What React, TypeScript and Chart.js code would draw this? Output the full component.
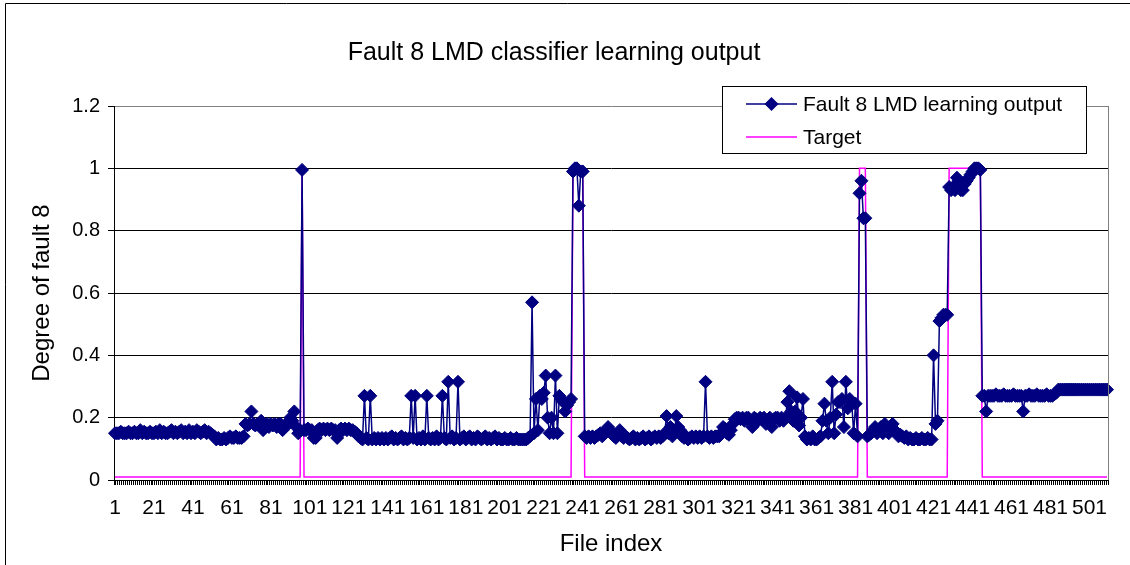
import React, { useEffect, useRef } from 'react';
import { Chart, registerables } from 'chart.js';

Chart.register(...registerables);

// Categories: file indices 1..510
const fileIndex: string[] = Array.from({ length: 510 }, (_, i) => String(i + 1));

// Series 1: Fault 8 LMD learning output
const learningOutput: number[] = [
  0.15, 0.15, 0.15, 0.155, 0.15, 0.15, 0.15, 0.155, 0.15, 0.15,
  0.155, 0.15, 0.15, 0.16, 0.15, 0.155, 0.15, 0.15, 0.155, 0.15,
  0.15, 0.155, 0.15, 0.16, 0.15, 0.155, 0.15, 0.15, 0.155, 0.16,
  0.15, 0.155, 0.15, 0.155, 0.16, 0.15, 0.155, 0.15, 0.16, 0.15,
  0.155, 0.15, 0.16, 0.155, 0.15, 0.155, 0.16, 0.15, 0.155, 0.15,
  0.145, 0.14, 0.13, 0.135, 0.13, 0.13, 0.135, 0.13, 0.135, 0.14,
  0.135, 0.135, 0.14, 0.135, 0.135, 0.135, 0.14, 0.18, 0.175, 0.18,
  0.22, 0.18, 0.175, 0.18, 0.18, 0.19, 0.16, 0.175, 0.18, 0.17,
  0.18, 0.175, 0.18, 0.17, 0.18, 0.18, 0.16, 0.175, 0.18, 0.18,
  0.2, 0.19, 0.22, 0.17, 0.15, 0.16, 0.995, 0.16, 0.16, 0.165,
  0.16, 0.16, 0.135, 0.135, 0.16, 0.165, 0.16, 0.165, 0.16, 0.165,
  0.16, 0.165, 0.16, 0.16, 0.135, 0.16, 0.165, 0.16, 0.165, 0.16,
  0.165, 0.16, 0.16, 0.155, 0.15, 0.14, 0.135, 0.13, 0.27, 0.135,
  0.13, 0.27, 0.13, 0.135, 0.13, 0.135, 0.13, 0.135, 0.13, 0.135,
  0.13, 0.135, 0.14, 0.13, 0.135, 0.13, 0.135, 0.14, 0.13, 0.135,
  0.13, 0.135, 0.27, 0.135, 0.27, 0.13, 0.135, 0.13, 0.14, 0.13,
  0.27, 0.135, 0.13, 0.135, 0.13, 0.14, 0.13, 0.135, 0.27, 0.135,
  0.13, 0.315, 0.135, 0.14, 0.13, 0.135, 0.315, 0.13, 0.135, 0.14,
  0.13, 0.135, 0.14, 0.13, 0.135, 0.13, 0.14, 0.135, 0.13, 0.135,
  0.14, 0.13, 0.135, 0.13, 0.135, 0.14, 0.13, 0.135, 0.13, 0.13,
  0.135, 0.13, 0.13, 0.135, 0.13, 0.13, 0.135, 0.13, 0.13, 0.13,
  0.13, 0.13, 0.135, 0.14, 0.57, 0.15, 0.26, 0.16, 0.27, 0.26,
  0.28, 0.335, 0.2, 0.15, 0.2, 0.15, 0.335, 0.15, 0.27, 0.26,
  0.25, 0.22, 0.24, 0.25, 0.26, 0.99, 1.0, 1.0, 0.88, 0.99,
  0.99, 0.14, 0.135, 0.14, 0.135, 0.14, 0.135, 0.14, 0.145, 0.15,
  0.14, 0.15, 0.16, 0.17, 0.16, 0.15, 0.14, 0.135, 0.15, 0.16,
  0.14, 0.135, 0.14, 0.135, 0.13, 0.135, 0.14, 0.13, 0.135, 0.13,
  0.135, 0.14, 0.13, 0.135, 0.14, 0.13, 0.135, 0.14, 0.135, 0.14,
  0.135, 0.14, 0.15, 0.205, 0.15, 0.17, 0.14, 0.15, 0.205, 0.17,
  0.16, 0.14, 0.135, 0.14, 0.13, 0.135, 0.14, 0.135, 0.14, 0.135,
  0.14, 0.135, 0.14, 0.315, 0.14, 0.135, 0.14, 0.135, 0.14, 0.14,
  0.14, 0.15, 0.17, 0.165, 0.15, 0.145, 0.16, 0.18, 0.195, 0.2,
  0.2, 0.195, 0.2, 0.19, 0.2, 0.2, 0.19, 0.17, 0.2, 0.195,
  0.19, 0.2, 0.195, 0.2, 0.18, 0.19, 0.2, 0.17, 0.195, 0.2,
  0.2, 0.19, 0.2, 0.19, 0.2, 0.25, 0.285, 0.22, 0.19, 0.22,
  0.265, 0.175, 0.2, 0.26, 0.14, 0.13, 0.135, 0.13, 0.14, 0.13,
  0.13, 0.135, 0.14, 0.19, 0.245, 0.19, 0.15, 0.2, 0.315, 0.15,
  0.21, 0.25, 0.25, 0.26, 0.17, 0.315, 0.23, 0.26, 0.25, 0.15,
  0.245, 0.14, 0.92, 0.96, 0.84, 0.84, 0.14, 0.145, 0.15, 0.16,
  0.17, 0.15, 0.16, 0.17, 0.15, 0.18, 0.16, 0.15, 0.17, 0.18,
  0.16, 0.15, 0.14, 0.145, 0.14, 0.135, 0.14, 0.13, 0.135, 0.13,
  0.13, 0.135, 0.13, 0.13, 0.135, 0.13, 0.13, 0.135, 0.13, 0.13,
  0.4, 0.18, 0.19, 0.51, 0.52, 0.53, 0.53, 0.53, 0.94, 0.93,
  0.94, 0.93, 0.97, 0.96, 0.93, 0.93, 0.95, 0.96, 0.97, 0.98,
  0.99, 1.0, 1.0, 1.0, 0.995, 0.27, 0.27, 0.22, 0.27, 0.27,
  0.27, 0.27, 0.275, 0.27, 0.27, 0.27, 0.275, 0.27, 0.27, 0.27,
  0.27, 0.275, 0.27, 0.27, 0.27, 0.27, 0.22, 0.27, 0.27, 0.275,
  0.27, 0.27, 0.27, 0.275, 0.27, 0.27, 0.27, 0.27, 0.275, 0.27,
  0.27, 0.27, 0.275, 0.28, 0.29, 0.29, 0.29, 0.29, 0.29, 0.29,
  0.29, 0.29, 0.29, 0.29, 0.29, 0.29, 0.29, 0.29, 0.29, 0.29,
  0.29, 0.29, 0.29, 0.29, 0.29, 0.29, 0.29, 0.29, 0.29, 0.29,
];

// Series 2: Target
const targetValues: number[] = [
  0.01, 0.01, 0.01, 0.01, 0.01, 0.01, 0.01, 0.01, 0.01, 0.01,
  0.01, 0.01, 0.01, 0.01, 0.01, 0.01, 0.01, 0.01, 0.01, 0.01,
  0.01, 0.01, 0.01, 0.01, 0.01, 0.01, 0.01, 0.01, 0.01, 0.01,
  0.01, 0.01, 0.01, 0.01, 0.01, 0.01, 0.01, 0.01, 0.01, 0.01,
  0.01, 0.01, 0.01, 0.01, 0.01, 0.01, 0.01, 0.01, 0.01, 0.01,
  0.01, 0.01, 0.01, 0.01, 0.01, 0.01, 0.01, 0.01, 0.01, 0.01,
  0.01, 0.01, 0.01, 0.01, 0.01, 0.01, 0.01, 0.01, 0.01, 0.01,
  0.01, 0.01, 0.01, 0.01, 0.01, 0.01, 0.01, 0.01, 0.01, 0.01,
  0.01, 0.01, 0.01, 0.01, 0.01, 0.01, 0.01, 0.01, 0.01, 0.01,
  0.01, 0.01, 0.01, 0.01, 0.01, 0.01, 1, 0.01, 0.01, 0.01,
  0.01, 0.01, 0.01, 0.01, 0.01, 0.01, 0.01, 0.01, 0.01, 0.01,
  0.01, 0.01, 0.01, 0.01, 0.01, 0.01, 0.01, 0.01, 0.01, 0.01,
  0.01, 0.01, 0.01, 0.01, 0.01, 0.01, 0.01, 0.01, 0.01, 0.01,
  0.01, 0.01, 0.01, 0.01, 0.01, 0.01, 0.01, 0.01, 0.01, 0.01,
  0.01, 0.01, 0.01, 0.01, 0.01, 0.01, 0.01, 0.01, 0.01, 0.01,
  0.01, 0.01, 0.01, 0.01, 0.01, 0.01, 0.01, 0.01, 0.01, 0.01,
  0.01, 0.01, 0.01, 0.01, 0.01, 0.01, 0.01, 0.01, 0.01, 0.01,
  0.01, 0.01, 0.01, 0.01, 0.01, 0.01, 0.01, 0.01, 0.01, 0.01,
  0.01, 0.01, 0.01, 0.01, 0.01, 0.01, 0.01, 0.01, 0.01, 0.01,
  0.01, 0.01, 0.01, 0.01, 0.01, 0.01, 0.01, 0.01, 0.01, 0.01,
  0.01, 0.01, 0.01, 0.01, 0.01, 0.01, 0.01, 0.01, 0.01, 0.01,
  0.01, 0.01, 0.01, 0.01, 0.01, 0.01, 0.01, 0.01, 0.01, 0.01,
  0.01, 0.01, 0.01, 0.01, 0.01, 0.01, 0.01, 0.01, 0.01, 0.01,
  0.01, 0.01, 0.01, 0.01, 0.01, 1, 1, 1, 1, 1,
  1, 0.01, 0.01, 0.01, 0.01, 0.01, 0.01, 0.01, 0.01, 0.01,
  0.01, 0.01, 0.01, 0.01, 0.01, 0.01, 0.01, 0.01, 0.01, 0.01,
  0.01, 0.01, 0.01, 0.01, 0.01, 0.01, 0.01, 0.01, 0.01, 0.01,
  0.01, 0.01, 0.01, 0.01, 0.01, 0.01, 0.01, 0.01, 0.01, 0.01,
  0.01, 0.01, 0.01, 0.01, 0.01, 0.01, 0.01, 0.01, 0.01, 0.01,
  0.01, 0.01, 0.01, 0.01, 0.01, 0.01, 0.01, 0.01, 0.01, 0.01,
  0.01, 0.01, 0.01, 0.01, 0.01, 0.01, 0.01, 0.01, 0.01, 0.01,
  0.01, 0.01, 0.01, 0.01, 0.01, 0.01, 0.01, 0.01, 0.01, 0.01,
  0.01, 0.01, 0.01, 0.01, 0.01, 0.01, 0.01, 0.01, 0.01, 0.01,
  0.01, 0.01, 0.01, 0.01, 0.01, 0.01, 0.01, 0.01, 0.01, 0.01,
  0.01, 0.01, 0.01, 0.01, 0.01, 0.01, 0.01, 0.01, 0.01, 0.01,
  0.01, 0.01, 0.01, 0.01, 0.01, 0.01, 0.01, 0.01, 0.01, 0.01,
  0.01, 0.01, 0.01, 0.01, 0.01, 0.01, 0.01, 0.01, 0.01, 0.01,
  0.01, 0.01, 0.01, 0.01, 0.01, 0.01, 0.01, 0.01, 0.01, 0.01,
  0.01, 0.01, 1, 1, 1, 1, 0.01, 0.01, 0.01, 0.01,
  0.01, 0.01, 0.01, 0.01, 0.01, 0.01, 0.01, 0.01, 0.01, 0.01,
  0.01, 0.01, 0.01, 0.01, 0.01, 0.01, 0.01, 0.01, 0.01, 0.01,
  0.01, 0.01, 0.01, 0.01, 0.01, 0.01, 0.01, 0.01, 0.01, 0.01,
  0.01, 0.01, 0.01, 0.01, 0.01, 0.01, 0.01, 0.01, 1, 1,
  1, 1, 1, 1, 1, 1, 1, 1, 1, 1,
  1, 1, 1, 1, 1, 0.01, 0.01, 0.01, 0.01, 0.01,
  0.01, 0.01, 0.01, 0.01, 0.01, 0.01, 0.01, 0.01, 0.01, 0.01,
  0.01, 0.01, 0.01, 0.01, 0.01, 0.01, 0.01, 0.01, 0.01, 0.01,
  0.01, 0.01, 0.01, 0.01, 0.01, 0.01, 0.01, 0.01, 0.01, 0.01,
  0.01, 0.01, 0.01, 0.01, 0.01, 0.01, 0.01, 0.01, 0.01, 0.01,
  0.01, 0.01, 0.01, 0.01, 0.01, 0.01, 0.01, 0.01, 0.01, 0.01,
  0.01, 0.01, 0.01, 0.01, 0.01, 0.01, 0.01, 0.01, 0.01, 0.01,
];

const seriesNames = ['Fault 8 LMD learning output', 'Target'];
const chartTitle = 'Fault 8 LMD classifier learning output';
const xTitle = 'File index';
const yTitle = 'Degree of fault 8';
const labelEvery = 20;

const FONT = '"Liberation Sans", Arial, sans-serif';
const NAVY = '#000080';
const MAGENTA = '#FF00FF';

const overlayPlugin = {
  id: 'overlay',
  beforeDraw(chart: any) {
    const { ctx, width, height } = chart;
    ctx.save();
    ctx.fillStyle = '#ffffff';
    ctx.fillRect(0, 0, width, height);
    ctx.restore();
  },
  afterDraw(chart: any) {
    const { ctx, chartArea } = chart;
    ctx.save();
    // plot area right border
    ctx.strokeStyle = '#808080';
    ctx.lineWidth = 1;
    const rx = Math.round(chartArea.right) + 0.5;
    ctx.beginPath();
    ctx.moveTo(rx, Math.round(chartArea.top));
    ctx.lineTo(rx, Math.round(chartArea.bottom));
    ctx.stroke();

    // outer chart border
    ctx.strokeStyle = '#000000';
    ctx.beginPath();
    ctx.moveTo(5.5, 565);
    ctx.lineTo(5.5, 3.5);
    ctx.lineTo(1130, 3.5);
    ctx.stroke();

    // legend box
    const bx = 722.5, by = 86.5, bw = 364, bh = 67;
    ctx.fillStyle = '#ffffff';
    ctx.fillRect(bx, by, bw, bh);
    ctx.strokeStyle = '#000000';
    ctx.lineWidth = 1;
    ctx.strokeRect(bx, by, bw, bh);

    const rows = [
      { y: 104, color: NAVY, marker: true, text: seriesNames[0] },
      { y: 137, color: MAGENTA, marker: false, text: seriesNames[1] },
    ];
    ctx.font = `21px ${FONT}`;
    ctx.textBaseline = 'middle';
    ctx.textAlign = 'left';
    rows.forEach((r) => {
      ctx.strokeStyle = r.color;
      ctx.lineWidth = 1.5;
      ctx.beginPath();
      ctx.moveTo(746, r.y);
      ctx.lineTo(797, r.y);
      ctx.stroke();
      if (r.marker) {
        const cx = 771.5, rad = 7;
        ctx.fillStyle = r.color;
        ctx.beginPath();
        ctx.moveTo(cx, r.y - rad);
        ctx.lineTo(cx + rad, r.y);
        ctx.lineTo(cx, r.y + rad);
        ctx.lineTo(cx - rad, r.y);
        ctx.closePath();
        ctx.fill();
      }
      ctx.fillStyle = '#000000';
      ctx.fillText(r.text, 803, r.y + 1);
    });
    ctx.restore();
  },
};

export default function App() {
  const canvasRef = useRef<HTMLCanvasElement | null>(null);

  useEffect(() => {
    if (!canvasRef.current) return;
    const chart = new Chart(canvasRef.current, {
      type: 'line',
      data: {
        labels: fileIndex,
        datasets: [
          {
            label: seriesNames[0],
            data: learningOutput,
            borderColor: NAVY,
            backgroundColor: NAVY,
            borderWidth: 1.5,
            pointStyle: 'rectRot',
            pointRadius: 6.5,
            pointBorderWidth: 1,
            pointBackgroundColor: NAVY,
            pointBorderColor: NAVY,
            tension: 0,
            fill: false,
          },
          {
            label: seriesNames[1],
            data: targetValues,
            borderColor: MAGENTA,
            backgroundColor: MAGENTA,
            borderWidth: 1.5,
            pointRadius: 0,
            tension: 0,
            fill: false,
          },
        ],
      },
      options: {
        animation: false,
        responsive: false,
        devicePixelRatio: 1,
        layout: { padding: { left: 0, right: 22, top: 0, bottom: 0 } },
        plugins: {
          legend: { display: false },
          tooltip: { enabled: false },
          title: {
            display: true,
            text: chartTitle,
            color: '#000000',
            font: { family: FONT, size: 25, weight: 'normal', lineHeight: 1.2 },
            padding: { top: 38, bottom: 38 },
          },
        },
        scales: {
          x: {
            type: 'category',
            offset: true,
            grid: {
              display: true,
              drawOnChartArea: false,
              drawTicks: true,
              tickLength: 5,
              offset: true,
              color: '#000000',
              tickColor: '#000000',
            },
            border: { display: true, color: '#000000', width: 1 },
            ticks: {
              autoSkip: false,
              maxRotation: 0,
              minRotation: 0,
              padding: 11,
              color: '#000000',
              font: { family: FONT, size: 21 },
              callback: (_v: any, i: number) => (i % labelEvery === 0 ? fileIndex[i] : ''),
            },
            title: {
              display: true,
              text: xTitle,
              color: '#000000',
              font: { family: FONT, size: 24 },
              padding: { top: 0, bottom: 6 },
            },
            afterFit: (scale: any) => {
              scale.height = 85;
            },
          },
          y: {
            min: 0,
            max: 1.2,
            ticks: {
              stepSize: 0.2,
              padding: 8,
              color: '#000000',
              font: { family: FONT, size: 20 },
              callback: (v: any) => String(Math.round(Number(v) * 10) / 10),
            },
            grid: {
              display: true,
              drawTicks: true,
              tickLength: 6,
              lineWidth: 1,
              tickColor: '#000000',
              color: (ctx: any) =>
                ctx.tick && Math.abs(ctx.tick.value - 1.2) < 1e-6 ? '#808080' : '#000000',
            },
            border: { display: true, color: '#000000', width: 1 },
            title: {
              display: true,
              text: yTitle,
              color: '#000000',
              font: { family: FONT, size: 24 },
              padding: { top: 28, bottom: 0 },
            },
            afterFit: (scale: any) => {
              scale.width = 114;
            },
          },
        },
      },
      plugins: [overlayPlugin],
    });
    return () => chart.destroy();
  }, []);

  return (
    <div style={{ position: 'fixed', left: 0, top: 0, width: 1130, height: 565, background: '#fff' }}>
      <canvas ref={canvasRef} width={1130} height={565} style={{ display: 'block' }} />
    </div>
  );
}
